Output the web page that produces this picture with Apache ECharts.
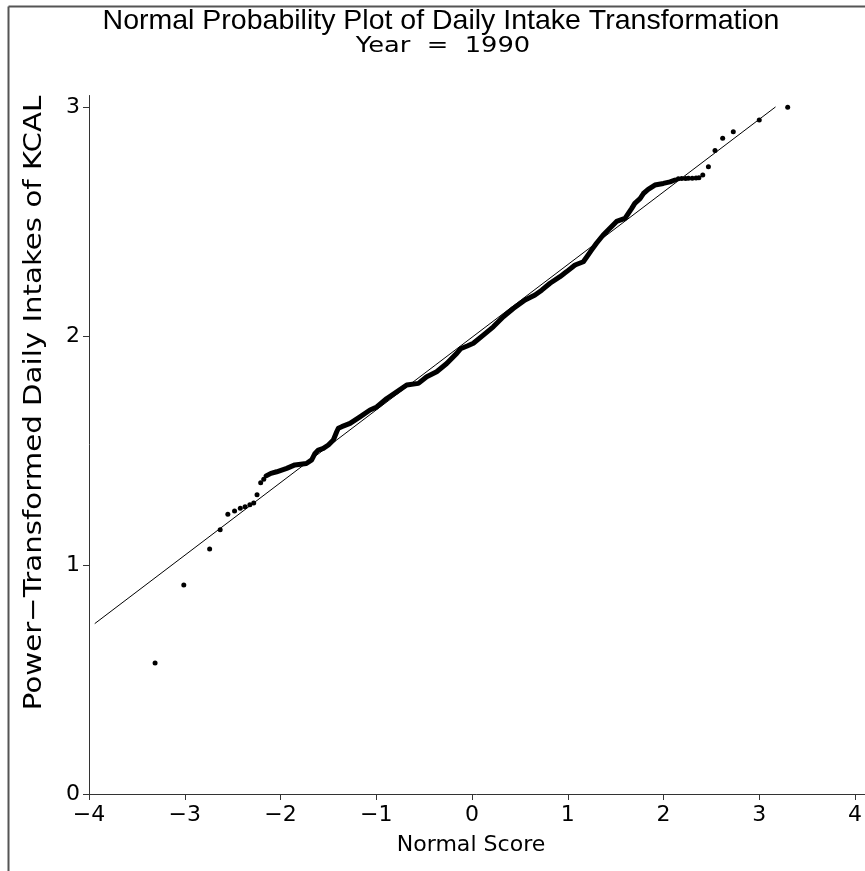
<!DOCTYPE html>
<html>
<head>
<meta charset="utf-8">
<script src="https://cdn.jsdelivr.net/npm/echarts@6/dist/echarts.min.js"></script>
<style>html,body{margin:0;padding:0;background:#fff;}#c{width:865px;height:871px;}</style>
</head>
<body>
<div id="c"></div>
<script>
// Dense central part of the normal probability plot (normal score, transformed value)
const denseX = [-2.15,-2.10,-2.04,-1.935,-1.85,-1.73,-1.674,-1.64,-1.605,-1.553,-1.50,-1.448,-1.413,-1.396,-1.36,-1.274,-1.17,-1.065,-0.995,-0.89,-0.786,-0.682,-0.56,-0.473,-0.369,-0.264,-0.16,-0.12,-0.05,0.014,0.118,0.222,0.327,0.431,0.554,0.658,0.728,0.815,0.919,0.989,1.076,1.163,1.25,1.30,1.37,1.44,1.51,1.598,1.633,1.668,1.70,1.755,1.79,1.84,1.91,1.998,2.068,2.12];
const denseY = [1.389,1.40,1.407,1.422,1.437,1.443,1.459,1.487,1.502,1.509,1.524,1.546,1.582,1.597,1.604,1.618,1.647,1.677,1.69,1.727,1.756,1.786,1.793,1.822,1.844,1.88,1.924,1.944,1.956,1.968,2.004,2.04,2.084,2.12,2.157,2.179,2.20,2.23,2.259,2.281,2.31,2.324,2.376,2.405,2.441,2.47,2.50,2.513,2.535,2.557,2.579,2.60,2.622,2.64,2.659,2.666,2.673,2.681];
// Sparse tail observations
const tailX = [-3.31,-3.01,-2.74,-2.63,-2.55,-2.48,-2.42,-2.37,-2.32,-2.28,-2.245,-2.207,-2.175,2.155,2.19,2.23,2.26,2.30,2.34,2.37,2.41,2.469,2.538,2.618,2.729,3.0,3.297];
const tailY = [0.572,0.913,1.07,1.154,1.221,1.236,1.248,1.254,1.263,1.271,1.307,1.359,1.374,2.686,2.688,2.688,2.689,2.689,2.690,2.691,2.703,2.739,2.81,2.863,2.892,2.943,2.999];
// Reference (fitted) line end points
const fitX = [-3.94, 3.17];
const fitY = [0.744, 3.0];
// Tick values
const xTicks = [-4,-3,-2,-1,0,1,2,3,4];
const yTicks = [0,1,2,3];

const titleText = 'Normal Probability Plot of Daily Intake Transformation';
const subtitleText = 'Year  =  1990';
const xName = 'Normal Score';
const yName = 'Power\u2212Transformed Daily Intakes of KCAL';

const zip = (a, b) => a.map((v, i) => [v, b[i]]);
const lblFont = '"DejaVu Sans", sans-serif';
const fmt = v => (v < 0 ? '\u2212' + Math.abs(v) : String(v));

const chart = echarts.init(document.getElementById('c'), null, {renderer: 'canvas'});
chart.setOption({
  animation: false,
  backgroundColor: '#fff',
  grid: {left: 89, right: 0, top: 95.5, bottom: 77, containLabel: false},
  xAxis: {
    type: 'value', min: -4, max: 4.1,
    axisLine: {onZero: false, lineStyle: {color: '#333', width: 1}},
    axisTick: {show: true, inside: false, length: 6, lineStyle: {color: '#333'}, customValues: xTicks},
    axisLabel: {customValues: xTicks, formatter: fmt, color: '#000', fontFamily: lblFont, fontSize: 22, margin: 10},
    splitLine: {show: false}
  },
  yAxis: {
    type: 'value', min: 0, max: 3.05,
    axisLine: {onZero: false, lineStyle: {color: '#333', width: 1}},
    axisTick: {show: true, inside: false, length: 6, lineStyle: {color: '#333'}, customValues: yTicks},
    axisLabel: {customValues: yTicks, formatter: fmt, color: '#000', fontFamily: lblFont, fontSize: 22, margin: 9},
    splitLine: {show: false}
  },
  graphic: [
    {type: 'line', shape: {x1: 8.5, y1: 6.5, x2: 8.5, y2: 871}, style: {stroke: '#555', lineWidth: 2}, silent: true},
    {type: 'line', shape: {x1: 8.5, y1: 6.5, x2: 865, y2: 6.5}, style: {stroke: '#555', lineWidth: 2}, silent: true},
    {type: 'text', x: 441, y: 21, style: {text: titleText, fill: '#000', font: '28.5px "Liberation Sans", Arial, sans-serif', textAlign: 'center', textVerticalAlign: 'middle'}},
    {type: 'text', x: 443, y: 46, scaleX: 1.17, style: {text: subtitleText, fill: '#000', font: '22px "DejaVu Sans", sans-serif', textAlign: 'center', textVerticalAlign: 'middle'}},
    {type: 'text', x: 471, y: 846, scaleX: 1.05, style: {text: xName, fill: '#000', font: '21px "DejaVu Sans", sans-serif', textAlign: 'center', textVerticalAlign: 'middle'}},
    {type: 'text', x: 34, y: 403, rotation: Math.PI / 2, scaleX: 1.17, style: {text: yName, fill: '#000', font: '25px "DejaVu Sans", sans-serif', textAlign: 'center', textVerticalAlign: 'middle'}}
  ],
  series: [
    {type: 'line', data: zip(fitX, fitY), showSymbol: false, symbol: 'none', lineStyle: {color: '#000', width: 1}, z: 2},
    {type: 'line', data: zip(denseX, denseY), showSymbol: false, symbol: 'none', lineStyle: {color: '#000', width: 5, cap: 'round', join: 'round'}, z: 3},
    {type: 'scatter', data: zip(tailX, tailY), symbol: 'circle', symbolSize: 5, itemStyle: {color: '#000', opacity: 1}, z: 4}
  ]
});
</script>
</body>
</html>
